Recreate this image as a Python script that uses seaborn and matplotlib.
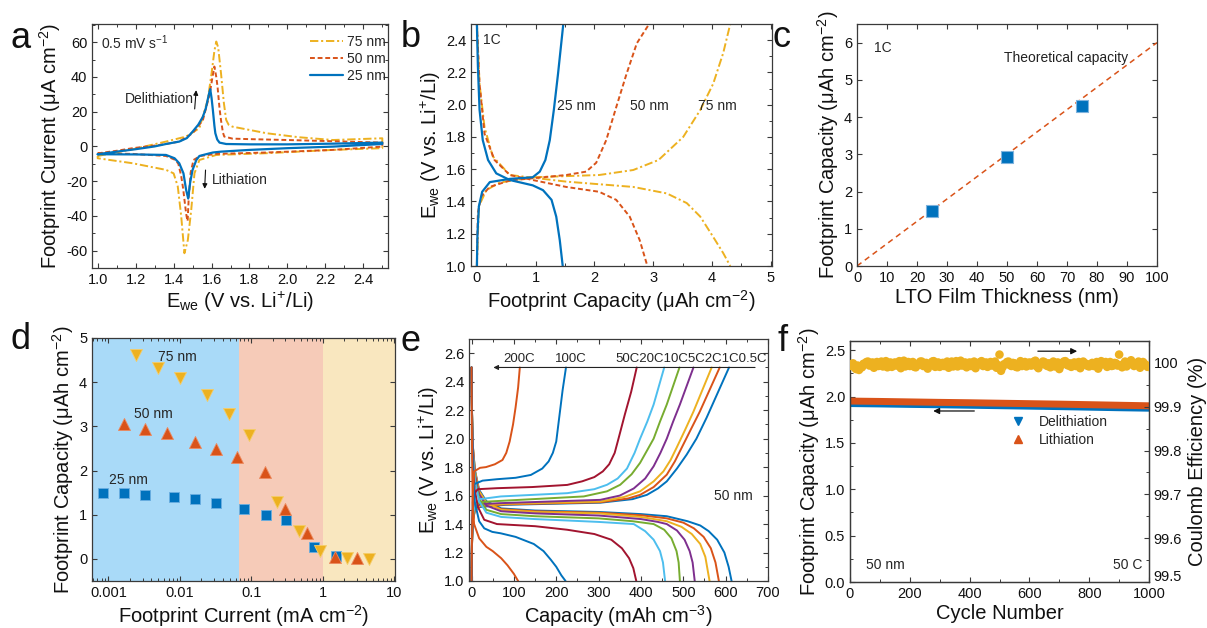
import matplotlib
matplotlib.use("Agg")
import matplotlib.pyplot as plt
import matplotlib.transforms as mtransforms
import pandas as pd
import seaborn as sns
from matplotlib.lines import Line2D
from matplotlib.ticker import (MultipleLocator, FixedLocator, FixedFormatter,
                               FormatStrFormatter, NullFormatter, LogLocator)

# ---------------------------------------------------------------- data
# (a) cyclic voltammograms at 0.5 mV/s: anodic sweep followed by cathodic sweep
A_V_25 = [1.00, 1.10, 1.20, 1.30, 1.36, 1.43, 1.47, 1.50, 1.53, 1.554, 1.57, 1.58, 1.588, 1.593,
          1.600, 1.607, 1.615, 1.620, 1.630, 1.642, 1.677, 1.80, 2.00, 2.24, 2.50,
          2.50, 2.24, 2.00, 1.80, 1.65, 1.607, 1.56, 1.536, 1.52, 1.50, 1.487, 1.477, 1.466,
          1.452, 1.43, 1.405, 1.36, 1.20, 1.00]
A_I_25 = [-4.5, -3.0, -1.6, 0.0, 1.4, 2.8, 4.8, 8.5, 12.5, 17, 22, 27, 31, 33,
          28, 21, 12, 7.6, 4.0, 2.2, 1.4, 1.2, 1.2, 1.6, 2.2,
          1.4, -0.1, -1.0, -2.0, -3.0, -3.5, -4.8, -5.5, -7.8, -13.5, -21, -30, -25,
          -15.5, -9.7, -6.8, -4.9, -4.6, -4.5]
A_V_50 = [1.00, 1.10, 1.185, 1.30, 1.36, 1.43, 1.50, 1.554, 1.59, 1.605, 1.615, 1.625, 1.632,
          1.642, 1.650, 1.660, 1.667, 1.71, 1.80, 2.00, 2.24, 2.50,
          2.50, 2.24, 1.89, 1.625, 1.54, 1.505, 1.49, 1.48, 1.474, 1.468, 1.462, 1.45, 1.44,
          1.425, 1.41, 1.36, 1.185, 1.00]
A_I_50 = [-4.0, -2.5, -1.0, 0.5, 1.4, 2.8, 7.6, 15, 30, 40, 46, 40, 34,
          22, 15, 8, 5.7, 4.5, 4.2, 3.7, 3.0, 2.2,
          -0.1, -2.0, -3.5, -4.3, -5.5, -7.8, -15, -29, -43, -40, -35, -24, -17,
          -10, -7.8, -5.5, -4.3, -4.0]
A_V_75 = [1.00, 1.185, 1.36, 1.466, 1.536, 1.58, 1.60, 1.615, 1.625, 1.635, 1.65, 1.665, 1.677,
          1.69, 1.71, 1.89, 2.06, 2.24, 2.50,
          2.50, 2.24, 1.89, 1.625, 1.536, 1.51, 1.493, 1.475, 1.457, 1.44, 1.422, 1.40, 1.36,
          1.185, 1.00, 1.00]
A_I_75 = [-5.5, -1.6, 2.8, 5.7, 10.5, 26.8, 42, 55, 60.4, 57, 42, 25, 15.3,
          12.5, 11.4, 7.6, 5.3, 3.7, 4.7,
          -1.0, -2.0, -3.9, -4.9, -7.8, -15.5, -36.5, -54, -61.5, -40, -23, -15.5, -13.5,
          -9.7, -6.8, -5.5]

# (b) 1C charge / discharge profiles: (capacity uAh/cm2, potential V)
B_25_CHG = [(0, 1.0), (0.01, 1.20), (0.034, 1.37), (0.09, 1.46), (0.22, 1.52), (0.56, 1.54),
            (0.95, 1.55), (1.07, 1.585), (1.165, 1.657), (1.24, 1.78), (1.31, 1.97),
            (1.38, 2.19), (1.47, 2.5)]
B_25_DIS = [(0, 2.5), (0.017, 2.24), (0.045, 1.97), (0.10, 1.78), (0.19, 1.657), (0.33, 1.574),
            (0.56, 1.533), (0.95, 1.50), (1.125, 1.47), (1.27, 1.41), (1.35, 1.306),
            (1.41, 1.16), (1.46, 1.0)]
B_50_CHG = [(0, 1.0), (0.017, 1.33), (0.074, 1.43), (0.216, 1.49), (0.56, 1.53), (1.52, 1.564),
            (1.86, 1.585), (2.03, 1.64), (2.2, 1.78), (2.375, 1.99), (2.545, 2.19),
            (2.72, 2.38), (2.93, 2.5)]
B_50_DIS = [(0, 2.5), (0.045, 2.13), (0.13, 1.82), (0.30, 1.657), (0.56, 1.564), (0.95, 1.533),
            (1.52, 1.49), (2.08, 1.46), (2.37, 1.41), (2.60, 1.306), (2.77, 1.16), (2.90, 1.0)]
B_75_CHG = [(0, 1.0), (0.034, 1.37), (0.16, 1.47), (0.386, 1.517), (0.95, 1.55), (2.08, 1.564),
            (2.66, 1.595), (3.09, 1.657), (3.51, 1.80), (3.80, 1.967), (4.02, 2.13),
            (4.19, 2.32), (4.31, 2.5)]
B_75_DIS = [(0, 2.5), (0.045, 2.13), (0.13, 1.86), (0.27, 1.68), (0.56, 1.564), (1.52, 1.523),
            (2.66, 1.49), (3.23, 1.45), (3.57, 1.39), (3.80, 1.306), (4.02, 1.18),
            (4.19, 1.08), (4.31, 1.0)]

# (c) capacity vs. film thickness
C_THICK = [25, 50, 75]
C_CAP = [1.47, 2.93, 4.31]
C_THEO_X = [0, 100]
C_THEO_Y = [0.0, 6.0]

# (d) rate capability: current (mA/cm2) vs. capacity (uAh/cm2)
D_I_25 = [0.00085, 0.00166, 0.00324, 0.0082, 0.0163, 0.0318, 0.0785, 0.158, 0.31, 0.75, 1.52]
D_C_25 = [1.50, 1.49, 1.44, 1.41, 1.35, 1.26, 1.13, 0.99, 0.87, 0.26, 0.07]
D_I_50 = [0.00166, 0.00324, 0.0066, 0.0163, 0.032, 0.063, 0.154, 0.30, 0.61, 1.50, 2.96]
D_C_50 = [3.06, 2.95, 2.85, 2.65, 2.48, 2.31, 1.96, 1.13, 0.59, 0.05, 0.03]
D_I_75 = [0.00245, 0.0049, 0.0099, 0.024, 0.048, 0.093, 0.23, 0.46, 0.92, 2.21, 4.4]
D_C_75 = [4.62, 4.32, 4.10, 3.70, 3.28, 2.80, 1.28, 0.63, 0.19, 0.02, 0.0]

# (e) 50 nm film at different C-rates: (capacity mAh/cm3, potential V)
E_CHG_200C = [(0, 1.0), (1, 1.3), (3, 1.6), (6, 1.77), (20, 1.795), (34, 1.80), (55, 1.82),
              (73, 1.85), (82, 1.90), (90, 1.98), (98, 2.10), (104, 2.22), (110, 2.36), (114, 2.5)]
E_DIS_200C = [(0, 2.5), (1, 2.0), (2.5, 1.55), (6, 1.40), (18, 1.30), (35, 1.24), (50, 1.21),
              (70, 1.16), (85, 1.11), (100, 1.05), (110, 1.0)]
E_CHG_100C = [(0, 1.0), (1, 1.3), (3, 1.55), (6, 1.68), (26, 1.705), (60, 1.715), (104, 1.725),
              (140, 1.745), (167, 1.79), (182, 1.84), (192, 1.90), (200, 1.98), (205, 2.10),
              (210, 2.22), (215, 2.34), (223, 2.5)]
E_DIS_100C = [(0, 2.5), (1.5, 2.0), (4, 1.7), (8, 1.55), (18, 1.42), (30, 1.37), (49, 1.345),
              (69, 1.335), (104, 1.31), (147, 1.26), (170, 1.21), (187, 1.15), (200, 1.10),
              (212, 1.04), (222, 1.0)]
E_CHG_50C = [(0, 1.0), (1, 1.3), (3, 1.5), (8, 1.62), (15, 1.645), (60, 1.652), (143, 1.66),
             (226, 1.675), (261, 1.70), (290, 1.73), (310, 1.77), (325, 1.82), (338, 1.90),
             (347, 2.0), (362, 2.17), (377, 2.33), (390, 2.5)]
E_DIS_50C = [(0, 2.5), (1, 2.15), (3, 1.85), (7, 1.65), (15, 1.52), (30, 1.43), (60, 1.40),
             (150, 1.385), (226, 1.36), (290, 1.33), (330, 1.29), (355, 1.23), (372, 1.16),
             (382, 1.09), (389, 1.0)]
E_CHG_20C = [(0, 1.0), (1, 1.28), (3, 1.45), (8, 1.54), (20, 1.575), (69, 1.594), (226, 1.617),
             (290, 1.645), (320, 1.676), (345, 1.72), (367, 1.79), (385, 1.9), (398, 2.0),
             (415, 2.12), (430, 2.24), (455, 2.5)]
E_DIS_20C = [(0, 2.5), (1, 2.2), (3, 1.9), (8, 1.7), (18, 1.56), (35, 1.48), (70, 1.45),
             (150, 1.435), (226, 1.425), (300, 1.415), (383, 1.40), (410, 1.35), (430, 1.29),
             (445, 1.21), (452, 1.13), (457, 1.0)]
E_CHG_10C = [(0, 1.0), (1, 1.27), (3, 1.44), (8, 1.52), (20, 1.555), (69, 1.563), (265, 1.594),
             (320, 1.63), (351, 1.676), (378, 1.75), (398, 1.83), (415, 1.92), (430, 2.0),
             (445, 2.12), (461, 2.24), (491, 2.5)]
E_DIS_10C = [(0, 2.5), (1, 2.2), (3, 1.9), (8, 1.72), (18, 1.58), (35, 1.50), (70, 1.47),
             (150, 1.455), (300, 1.44), (380, 1.42), (430, 1.40), (455, 1.36), (472, 1.30),
             (484, 1.21), (489, 1.13), (492, 1.0)]
E_CHG_5C = [(0, 1.0), (1, 1.26), (3, 1.43), (8, 1.51), (20, 1.54), (69, 1.547), (304, 1.57),
            (350, 1.60), (383, 1.65), (410, 1.72), (430, 1.806), (446, 1.90), (461, 2.0),
            (476, 2.12), (492, 2.24), (524, 2.5)]
E_DIS_5C = [(0, 2.5), (1, 2.2), (3, 1.93), (8, 1.75), (18, 1.61), (35, 1.53), (70, 1.49),
            (150, 1.475), (300, 1.46), (400, 1.435), (440, 1.415), (461, 1.40), (485, 1.355),
            (503, 1.29), (515, 1.21), (522, 1.13), (527, 1.0)]
E_CHG_2C = [(0, 1.0), (1, 1.25), (3, 1.42), (8, 1.50), (20, 1.53), (80, 1.542), (304, 1.558),
            (360, 1.59), (398, 1.63), (430, 1.70), (453, 1.77), (470, 1.85), (484, 1.935),
            (504, 2.06), (524, 2.19), (567, 2.5)]
E_DIS_2C = [(0, 2.5), (1, 2.2), (3, 1.95), (8, 1.77), (18, 1.63), (35, 1.55), (70, 1.50),
            (150, 1.485), (300, 1.475), (400, 1.45), (461, 1.42), (496, 1.38), (520, 1.33),
            (540, 1.26), (552, 1.17), (562, 1.0)]
E_CHG_1C = [(0, 1.0), (1, 1.25), (3, 1.42), (8, 1.50), (20, 1.525), (80, 1.538), (304, 1.553),
            (370, 1.58), (398, 1.605), (430, 1.66), (461, 1.747), (480, 1.84), (496, 1.935),
            (517, 2.06), (539, 2.19), (586, 2.5)]
E_DIS_1C = [(0, 2.5), (1, 2.2), (3, 1.95), (8, 1.77), (18, 1.63), (35, 1.55), (70, 1.505),
            (150, 1.49), (300, 1.48), (400, 1.462), (461, 1.44), (500, 1.41), (525, 1.37),
            (548, 1.31), (565, 1.23), (576, 1.13), (584, 1.0)]
E_CHG_05C = [(0, 1.0), (1, 1.25), (3, 1.42), (8, 1.50), (20, 1.52), (80, 1.535), (304, 1.55),
             (380, 1.575), (414, 1.605), (440, 1.65), (461, 1.70), (485, 1.79), (508, 1.888),
             (531, 2.0), (555, 2.147), (608, 2.5)]
E_DIS_05C = [(0, 2.5), (1, 2.2), (3, 1.95), (8, 1.78), (18, 1.64), (35, 1.56), (70, 1.51),
             (150, 1.495), (300, 1.485), (400, 1.47), (461, 1.455), (510, 1.42), (540, 1.39),
             (560, 1.35), (580, 1.29), (597, 1.20), (607, 1.10), (614, 1.0)]
E_RATES = ["200C", "100C", "50C", "20C", "10C", "5C", "2C", "1C", "0.5C"]

# (f) long-term cycling at 50C
F_CYC_CAP = [0, 100, 200, 300, 400, 500, 600, 700, 800, 900, 1000]
F_LITH = [1.952, 1.948, 1.943, 1.938, 1.934, 1.929, 1.924, 1.919, 1.913, 1.907, 1.901]
F_DELITH = [1.910, 1.906, 1.901, 1.897, 1.892, 1.887, 1.882, 1.877, 1.871, 1.865, 1.860]
F_CYC_CE = list(range(0, 1001, 5))
F_CE = [99.993, 99.997, 99.999, 99.990, 99.986, 99.994, 99.984, 99.991, 99.990, 99.998,
        99.997, 100.002, 100.003, 99.994, 99.995, 100.001, 99.989, 99.996, 100.002, 99.993,
        99.998, 100.003, 99.992, 99.997, 100.004, 99.990, 99.996, 100.001, 99.991, 99.998,
        100.001, 99.994, 99.997, 100.004, 99.988, 99.995, 100.005, 99.992, 99.999, 100.002,
        99.993, 99.999, 100.002, 99.991, 99.990, 99.997, 99.996, 100.003, 100.003, 99.993,
        99.994, 100.000, 99.987, 99.996, 99.998, 100.003, 100.004, 99.991, 99.995, 100.001,
        99.991, 99.998, 100.000, 99.993, 99.996, 100.003, 99.989, 99.995, 100.003, 99.992,
        99.997, 100.004, 99.992, 99.998, 100.005, 99.994, 99.998, 100.001, 99.990, 99.996,
        100.001, 99.993, 99.995, 100.003, 99.988, 99.996, 99.999, 100.002, 100.004, 99.993,
        99.994, 100.001, 99.991, 99.997, 100.002, 99.994, 99.996, 100.003, 99.989, 99.995,
        100.019, 99.982, 99.990, 99.997, 99.997, 100.002, 100.003, 99.995, 99.993, 100.000,
        99.999, 99.991, 99.990, 99.998, 100.004, 99.993, 99.996, 100.002, 99.992, 99.999,
        100.001, 99.994, 99.995, 100.003, 100.005, 99.992, 99.988, 99.996, 99.998, 100.003,
        100.002, 99.995, 99.993, 99.999, 99.990, 99.996, 100.003, 99.992, 99.997, 100.001,
        99.986, 99.994, 99.999, 100.003, 100.004, 99.996, 99.994, 99.999, 99.991, 99.995,
        100.001, 99.993, 99.996, 100.002, 99.988, 99.994, 100.003, 99.997, 99.998, 99.993,
        99.992, 99.997, 100.000, 99.993, 99.995, 100.002, 99.987, 99.994, 100.004, 99.999,
        99.997, 100.002, 99.991, 99.996, 100.002, 99.993, 99.994, 100.000, 99.999, 99.994,
        100.019, 99.995, 99.990, 99.997, 100.003, 99.992, 99.996, 100.001, 100.006, 99.997,
        99.993, 99.999, 99.998, 100.003, 99.989, 99.994, 100.002, 99.998, 99.995, 99.991,
        99.991]

# ---------------------------------------------------------------- style
BLUE, ORANGE, YELLOW = "#0072BD", "#D95319", "#EDB120"
PURPLE, GREEN, LBLUE, DRED = "#7E2F8E", "#77AC30", "#4DBEEE", "#A2142F"
E_COLORS = [ORANGE, BLUE, DRED, LBLUE, GREEN, PURPLE, YELLOW, ORANGE, BLUE]
DASHED = (3.5, 2.0)
DASHDOT = (6.0, 2.0, 1.5, 2.0)

sns.set_theme(style="ticks")
plt.rcParams.update({
    "font.family": ["Liberation Sans", "DejaVu Sans"],
    "mathtext.fontset": "custom",
    "mathtext.rm": "Liberation Sans",
    "mathtext.it": "Liberation Sans:italic",
    "mathtext.default": "regular",
    "axes.unicode_minus": False,
    "axes.edgecolor": "#3a3a3a",
    "axes.linewidth": 0.9,
    "axes.labelcolor": "#111111",
    "axes.labelsize": 14.5,
    "xtick.labelsize": 10.5,
    "ytick.labelsize": 10.5,
    "xtick.color": "#3a3a3a",
    "ytick.color": "#3a3a3a",
    "xtick.labelcolor": "#111111",
    "ytick.labelcolor": "#111111",
    "xtick.direction": "in",
    "ytick.direction": "in",
    "xtick.top": True,
    "ytick.right": True,
    "xtick.major.size": 3.5,
    "ytick.major.size": 3.5,
    "xtick.minor.size": 2.0,
    "ytick.minor.size": 2.0,
    "xtick.major.width": 0.8,
    "ytick.major.width": 0.8,
    "xtick.minor.width": 0.7,
    "ytick.minor.width": 0.7,
    "lines.scale_dashes": False,
})

W, H = 1207, 628
fig = plt.figure(figsize=(W / 100, H / 100), dpi=100)


def box(x0, y0, x1, y1):
    """Axes from pixel corners (left, top, right, bottom)."""
    return fig.add_axes([x0 / W, 1 - y1 / H, (x1 - x0) / W, (y1 - y0) / H])


def curve(ax, xs, ys, color, lw=1.4, dashes=None):
    df = pd.DataFrame({"x": xs, "y": ys})
    sns.lineplot(data=df, x="x", y="y", ax=ax, sort=False, estimator=None,
                 color=color, lw=lw)
    if dashes is not None:
        ax.lines[-1].set_dashes(dashes)


def pairs(ax, pts, color, lw=1.4, dashes=None):
    curve(ax, [p[0] for p in pts], [p[1] for p in pts], color, lw, dashes)


CAP_LABEL = "Footprint Capacity (μAh cm$^{-2}$)"
EWE_LABEL = "E$_{we}$ (V vs. Li$^{+}$/Li)"
TXT = 10

# ---------------------------------------------------------------- (a)
ax = box(92, 24, 388, 268)
curve(ax, A_V_75, A_I_75, YELLOW, dashes=DASHDOT)
curve(ax, A_V_50, A_I_50, ORANGE, dashes=DASHED)
curve(ax, A_V_25, A_I_25, BLUE, lw=1.6)
ax.set_xlim(0.97, 2.53)
ax.set_ylim(-70, 70.5)
ax.xaxis.set_major_locator(MultipleLocator(0.2))
ax.xaxis.set_minor_locator(MultipleLocator(0.1))
ax.xaxis.set_major_formatter(FormatStrFormatter("%.1f"))
ax.yaxis.set_major_locator(MultipleLocator(20))
ax.yaxis.set_minor_locator(MultipleLocator(10))
ax.set_xlabel(EWE_LABEL, labelpad=2)
ax.set_ylabel("Footprint Current (μA cm$^{-2}$)", labelpad=2)
ax.text(1.02, 59.6, "0.5 mV s$^{-1}$", fontsize=TXT, va="center")
ax.text(1.505, 27.5, "Delithiation", fontsize=TXT, ha="right", va="center")
ax.annotate("", xy=(1.52, 34), xytext=(1.51, 20),
            arrowprops=dict(arrowstyle="-|>", color="#111", lw=0.8, mutation_scale=7))
ax.text(1.60, -19.4, "Lithiation", fontsize=TXT, ha="left", va="center")
ax.annotate("", xy=(1.563, -26), xytext=(1.569, -12),
            arrowprops=dict(arrowstyle="-|>", color="#111", lw=0.8, mutation_scale=7))
handles = [Line2D([], [], color=YELLOW, lw=1.4, dashes=DASHDOT),
           Line2D([], [], color=ORANGE, lw=1.4, dashes=DASHED),
           Line2D([], [], color=BLUE, lw=1.6)]
ax.legend(handles, ["75 nm", "50 nm", "25 nm"], loc="upper left",
          bbox_to_anchor=(0.736, 0.955), frameon=False, fontsize=TXT,
          handlelength=2.4, handletextpad=0.25, labelspacing=0.22,
          borderpad=0, borderaxespad=0)

# ---------------------------------------------------------------- (b)
ax = box(471, 24, 772, 266)
for chg, dis, col, dsh in [(B_75_CHG, B_75_DIS, YELLOW, DASHDOT),
                           (B_50_CHG, B_50_DIS, ORANGE, DASHED),
                           (B_25_CHG, B_25_DIS, BLUE, None)]:
    pairs(ax, chg, col, lw=1.6 if dsh is None else 1.4, dashes=dsh)
    pairs(ax, dis, col, lw=1.6 if dsh is None else 1.4, dashes=dsh)
ax.set_xlim(-0.1, 5.02)
ax.set_ylim(1.0, 2.5)
ax.xaxis.set_major_locator(MultipleLocator(1))
ax.xaxis.set_minor_locator(MultipleLocator(0.5))
ax.yaxis.set_major_locator(MultipleLocator(0.2))
ax.yaxis.set_minor_locator(MultipleLocator(0.1))
ax.yaxis.set_major_formatter(FormatStrFormatter("%.1f"))
ax.set_xlabel(CAP_LABEL, labelpad=2)
ax.set_ylabel(EWE_LABEL, labelpad=2)
ax.text(0.10, 2.40, "1C", fontsize=TXT, va="center")
ax.text(1.37, 1.99, "25 nm", fontsize=TXT, va="center")
ax.text(2.60, 1.99, "50 nm", fontsize=TXT, va="center")
ax.text(3.76, 1.99, "75 nm", fontsize=TXT, va="center")

# ---------------------------------------------------------------- (c)
ax = box(857, 24, 1157, 266)
curve(ax, C_THEO_X, C_THEO_Y, ORANGE, lw=1.1, dashes=(4.0, 3.0))
sns.scatterplot(x=C_THICK, y=C_CAP, ax=ax, marker="s", s=70, color=BLUE,
                edgecolor="#7fb3dd", linewidth=0.8, zorder=3)
ax.set_xlim(0, 100)
ax.set_ylim(0, 6.5)
ax.xaxis.set_major_locator(MultipleLocator(10))
ax.yaxis.set_major_locator(MultipleLocator(1))
ax.set_xlabel("LTO Film Thickness (nm)", labelpad=2)
ax.set_ylabel(CAP_LABEL, labelpad=2)
ax.text(5.7, 5.85, "1C", fontsize=TXT, va="center")
ax.text(90.3, 5.59, "Theoretical capacity", fontsize=TXT, ha="right", va="center",
        color="#222")

# ---------------------------------------------------------------- (d)
ax = box(92, 338, 395, 581)
ax.set_xscale("log")
ax.axvspan(1e-4, 0.068, color="#A9DAF8", lw=0, zorder=0)
ax.axvspan(0.068, 1.0, color="#F6CBB8", lw=0, zorder=0)
ax.axvspan(1.0, 100, color="#F9E7BF", lw=0, zorder=0)
sns.scatterplot(x=D_I_25, y=D_C_25, ax=ax, marker="s", s=45, color=BLUE,
                edgecolor="#6aaee0", linewidth=0.6, zorder=3)
sns.scatterplot(x=D_I_50, y=D_C_50, ax=ax, marker="^", s=75, color=ORANGE,
                edgecolor="#ec8a5f", linewidth=0.6, zorder=3)
sns.scatterplot(x=D_I_75, y=D_C_75, ax=ax, marker="v", s=75, color=YELLOW,
                edgecolor="#f5cd6a", linewidth=0.6, zorder=3)
ax.set_xlim(10 ** -3.23, 10 ** 1.01)
ax.set_ylim(-0.5, 5)
ax.xaxis.set_major_locator(FixedLocator([0.001, 0.01, 0.1, 1, 10]))
ax.xaxis.set_major_formatter(FixedFormatter(["0.001", "0.01", "0.1", "1", "10"]))
ax.xaxis.set_minor_locator(LogLocator(base=10, subs=range(2, 10)))
ax.xaxis.set_minor_formatter(NullFormatter())
ax.yaxis.set_major_locator(MultipleLocator(1))
ax.set_xlabel("Footprint Current (mA cm$^{-2}$)", labelpad=2)
ax.set_ylabel(CAP_LABEL, labelpad=2)
ax.text(0.0050, 4.56, "75 nm", fontsize=TXT, va="center")
ax.text(0.0023, 3.27, "50 nm", fontsize=TXT, va="center")
ax.text(0.00103, 1.78, "25 nm", fontsize=TXT, va="center")

# ---------------------------------------------------------------- (e)
ax = box(469, 339, 768, 581)
e_chg = [E_CHG_200C, E_CHG_100C, E_CHG_50C, E_CHG_20C, E_CHG_10C, E_CHG_5C,
         E_CHG_2C, E_CHG_1C, E_CHG_05C]
e_dis = [E_DIS_200C, E_DIS_100C, E_DIS_50C, E_DIS_20C, E_DIS_10C, E_DIS_5C,
         E_DIS_2C, E_DIS_1C, E_DIS_05C]
for chg, dis, col in zip(e_chg[::-1], e_dis[::-1], E_COLORS[::-1]):
    pairs(ax, chg, col, lw=1.4)
    pairs(ax, dis, col, lw=1.4)
ax.set_xlim(-6, 700)
ax.set_ylim(1.0, 2.7)
ax.xaxis.set_major_locator(MultipleLocator(100))
ax.xaxis.set_minor_locator(MultipleLocator(50))
ax.yaxis.set_major_locator(MultipleLocator(0.2))
ax.yaxis.set_minor_locator(MultipleLocator(0.1))
ax.yaxis.set_major_formatter(FormatStrFormatter("%.1f"))
ax.set_xlabel("Capacity (mAh cm$^{-3}$)", labelpad=2)
ax.set_ylabel(EWE_LABEL, labelpad=2)
ax.annotate("", xy=(45, 2.5), xytext=(676, 2.5),
            arrowprops=dict(arrowstyle="-|>", color="#222", lw=0.8, mutation_scale=7))
ax.text(112, 2.515, E_RATES[0], fontsize=9.5, ha="center", va="bottom")
ax.text(234, 2.515, E_RATES[1], fontsize=9.5, ha="center", va="bottom")
ax.text(339, 2.515, "".join(E_RATES[2:]), fontsize=9.5, ha="left", va="bottom")
ax.text(618, 1.594, "50 nm", fontsize=TXT, ha="center", va="center")

# ---------------------------------------------------------------- (f)
ax = box(850, 341, 1149, 582)
ax.tick_params(axis="y", right=False)
curve(ax, F_CYC_CAP, F_DELITH, BLUE, lw=3.0)
curve(ax, F_CYC_CAP, F_LITH, ORANGE, lw=5.0)
ax.set_xlim(0, 1000)
ax.set_ylim(0, 2.6)
ax.xaxis.set_major_locator(MultipleLocator(200))
ax.xaxis.set_minor_locator(MultipleLocator(100))
ax.yaxis.set_major_locator(MultipleLocator(0.5))
ax.yaxis.set_minor_locator(MultipleLocator(0.25))
ax.yaxis.set_major_formatter(FormatStrFormatter("%.1f"))
ax.set_xlabel("Cycle Number", labelpad=2)
ax.set_ylabel(CAP_LABEL, labelpad=2)
ax.annotate("", xy=(425, 1.845), xytext=(269, 1.845), xycoords="data",
            arrowprops=dict(arrowstyle="<|-", color="#111", lw=0.9, mutation_scale=9))
ax.annotate("", xy=(769, 2.49), xytext=(619, 2.49),
            arrowprops=dict(arrowstyle="-|>", color="#111", lw=0.9, mutation_scale=9))
ax.text(52, 0.18, "50 nm", fontsize=TXT, va="center")
ax.text(979, 0.18, "50 C", fontsize=TXT, ha="right", va="center")
fh = [Line2D([], [], marker="v", color=BLUE, ls="none", markersize=5.5),
      Line2D([], [], marker="^", color=ORANGE, ls="none", markersize=5.5)]
ax.legend(fh, ["Delithiation", "Lithiation"], loc="upper left",
          bbox_to_anchor=(0.54, 0.693), frameon=False, fontsize=TXT,
          handlelength=1.0, handletextpad=1.0, labelspacing=0.27,
          borderpad=0, borderaxespad=0)
ax2 = ax.twinx()
sns.scatterplot(x=F_CYC_CE, y=F_CE, ax=ax2, marker="o", s=38, color=YELLOW,
                edgecolor="none", zorder=3)
ax2.set_ylim(99.5, 100.05)
ax2.yaxis.set_major_locator(FixedLocator([99.5, 99.6, 99.7, 99.8, 99.9, 100.0]))
ax2.yaxis.set_major_formatter(FixedFormatter(["99.5", "99.6", "99.7", "99.8", "99.9", "100"]))
ax2.yaxis.set_minor_locator(MultipleLocator(0.05))
ax2.tick_params(axis="y", which="both", right=True, left=False, direction="in")
ax2.set_ylabel("Coulomb Efficiency (%)", labelpad=4)
ax2.set_xlim(0, 1000)

# lift the bottom right-axis label a little so it clears the "1000" below it
fig.canvas.draw()
bottom_tick = ax2.yaxis.get_major_ticks()[0]
lift = mtransforms.ScaledTranslation(0, 5 / 72, fig.dpi_scale_trans)
bottom_tick.label2.set_transform(bottom_tick.label2.get_transform() + lift)

# ---------------------------------------------------------------- panel letters
for letter, x, y in [("a", 10, 48), ("b", 401, 47), ("c", 772, 47),
                     ("d", 10, 349), ("e", 401, 351), ("f", 778, 351)]:
    fig.text(x / W, 1 - y / H, letter, fontsize=26, va="baseline", ha="left", color="#111")

fig.savefig("out.png", dpi=100)
